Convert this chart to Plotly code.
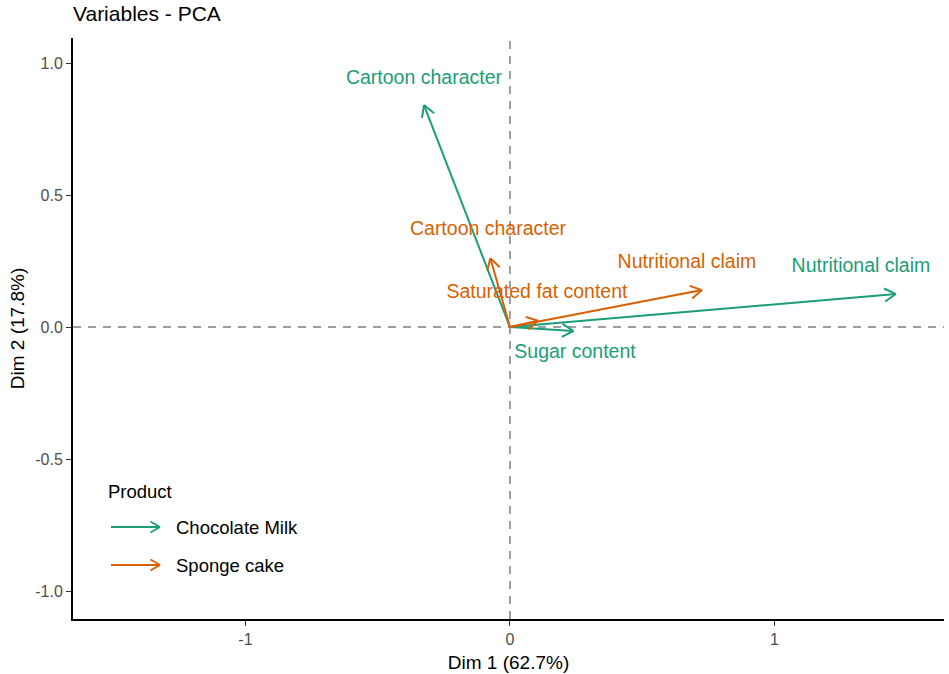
import math
import plotly.graph_objects as go

# PCA variable loadings (Dim 1, Dim 2) per product
cm_vars = ["Cartoon character", "Nutritional claim", "Sugar content"]
cm_dim1 = [-0.325, 1.459, 0.240]
cm_dim2 = [0.841, 0.125, -0.015]

sc_vars = ["Cartoon character", "Nutritional claim", "Saturated fat content"]
sc_dim1 = [-0.074, 0.726, 0.106]
sc_dim2 = [0.261, 0.140, 0.024]

# label anchor positions (repelled from arrow tips)
cm_lab_x = [-0.325, 1.327, 0.246]
cm_lab_y = [0.939, 0.227, -0.098]
sc_lab_x = [-0.083, 0.669, 0.102]
sc_lab_y = [0.367, 0.242, 0.129]

products = ["Chocolate Milk", "Sponge cake"]
colors = ["#1B9E77", "#D95F02"]

W, H = 949, 674
M = dict(l=73, r=5, t=38, b=55)
X_RANGE = [-1.652, 1.641]
Y_RANGE = [-1.106, 1.095]
FONT = "Liberation Sans, Arial, sans-serif"

plot_w = W - M["l"] - M["r"]
plot_h = H - M["t"] - M["b"]
sx = plot_w / (X_RANGE[1] - X_RANGE[0])
sy = plot_h / (Y_RANGE[1] - Y_RANGE[0])


def arrow_path(xs, ys, head_px=13, ang=30):
    """Shaft from origin plus an open chevron head, returned as x/y lists."""
    px, py = [], []
    for x, y in zip(xs, ys):
        px += [0, x, None]
        py += [0, y, None]
        dx, dy = x * sx, y * sy
        n = math.hypot(dx, dy)
        ux, uy = dx / n, dy / n
        for s in (1, -1):
            a = math.radians(ang) * s
            rx = ux * math.cos(a) - uy * math.sin(a)
            ry = ux * math.sin(a) + uy * math.cos(a)
            px += [x, x - head_px * rx / sx, None]
            py += [y, y - head_px * ry / sy, None]
    return px, py


fig = go.Figure()

series = [
    (cm_dim1, cm_dim2, cm_vars, cm_lab_x, cm_lab_y, colors[0], products[0]),
    (sc_dim1, sc_dim2, sc_vars, sc_lab_x, sc_lab_y, colors[1], products[1]),
]

for xs, ys, names, lx, ly, col, prod in series:
    ax, ay = arrow_path(xs, ys)
    fig.add_trace(go.Scatter(
        x=ax, y=ay, mode="lines", name=prod, showlegend=False,
        line=dict(color=col, width=2), hoverinfo="skip",
    ))
    fig.add_trace(go.Scatter(
        x=lx, y=ly, mode="text", text=names, showlegend=False,
        textfont=dict(family=FONT, size=19.5, color=col),
        textposition="middle center", hoverinfo="skip",
    ))

# dashed reference lines through the origin
fig.add_shape(type="line", xref="x", yref="paper", x0=0, x1=0, y0=0, y1=1,
              line=dict(color="#7F7F7F", width=1.5, dash="8px,7px"), layer="below")
fig.add_shape(type="line", xref="paper", yref="y", x0=0, x1=1, y0=0, y1=0,
              line=dict(color="#7F7F7F", width=1.5, dash="8px,7px"), layer="below")

# hand-built legend with arrow keys
fig.add_annotation(xref="paper", yref="paper", x=(106 - M["l"]) / plot_w,
                   y=1 - (491 - M["t"]) / plot_h, text="Product", showarrow=False,
                   xanchor="left", yanchor="middle",
                   font=dict(family=FONT, size=18.5, color="black"))
for i, (prod, col) in enumerate(zip(products, colors)):
    yy = 1 - (527 + 38 * i - M["t"]) / plot_h
    x_start = (111 - M["l"]) / plot_w
    x_end = (160 - M["l"]) / plot_w
    fig.add_shape(type="line", xref="paper", yref="paper",
                  x0=x_start, y0=yy, x1=x_end, y1=yy,
                  line=dict(color=col, width=2))
    hx = 11 * math.cos(math.radians(30)) / plot_w
    hy = 11 * math.sin(math.radians(30)) / plot_h
    for s in (1, -1):
        fig.add_shape(type="line", xref="paper", yref="paper",
                      x0=x_end, y0=yy, x1=x_end - hx, y1=yy + s * hy,
                      line=dict(color=col, width=2))
    fig.add_annotation(xref="paper", yref="paper", x=(174 - M["l"]) / plot_w, y=yy,
                       text=prod, showarrow=False, xanchor="left", yanchor="middle",
                       font=dict(family=FONT, size=18.5, color="black"))

axis_common = dict(
    showgrid=False, zeroline=False, showline=True, linecolor="black", linewidth=2,
    ticks="outside", ticklen=5, tickwidth=1.2, tickcolor="#333333",
    tickfont=dict(family=FONT, size=16, color="#4D4D4D"),
    title_font=dict(family=FONT, size=19, color="black"),
)

fig.update_xaxes(range=X_RANGE, tickvals=[-1, 0, 1], ticktext=["-1", "0", "1"],
                 title_text="Dim 1 (62.7%)", title_standoff=8, **axis_common)
fig.update_yaxes(range=Y_RANGE, tickvals=[-1, -0.5, 0, 0.5, 1],
                 ticktext=["-1.0", "-0.5", "0.0", "0.5", "1.0"],
                 title_text="Dim 2 (17.8%)", title_standoff=6, **axis_common)

fig.update_layout(
    width=W, height=H, margin=M,
    paper_bgcolor="white", plot_bgcolor="white",
    title=dict(text="Variables - PCA", x=M["l"] / W, xanchor="left",
               y=1 - 14 / H, yanchor="middle",
               font=dict(family=FONT, size=21, color="black")),
    showlegend=False,
)

fig.write_html("out.html")
